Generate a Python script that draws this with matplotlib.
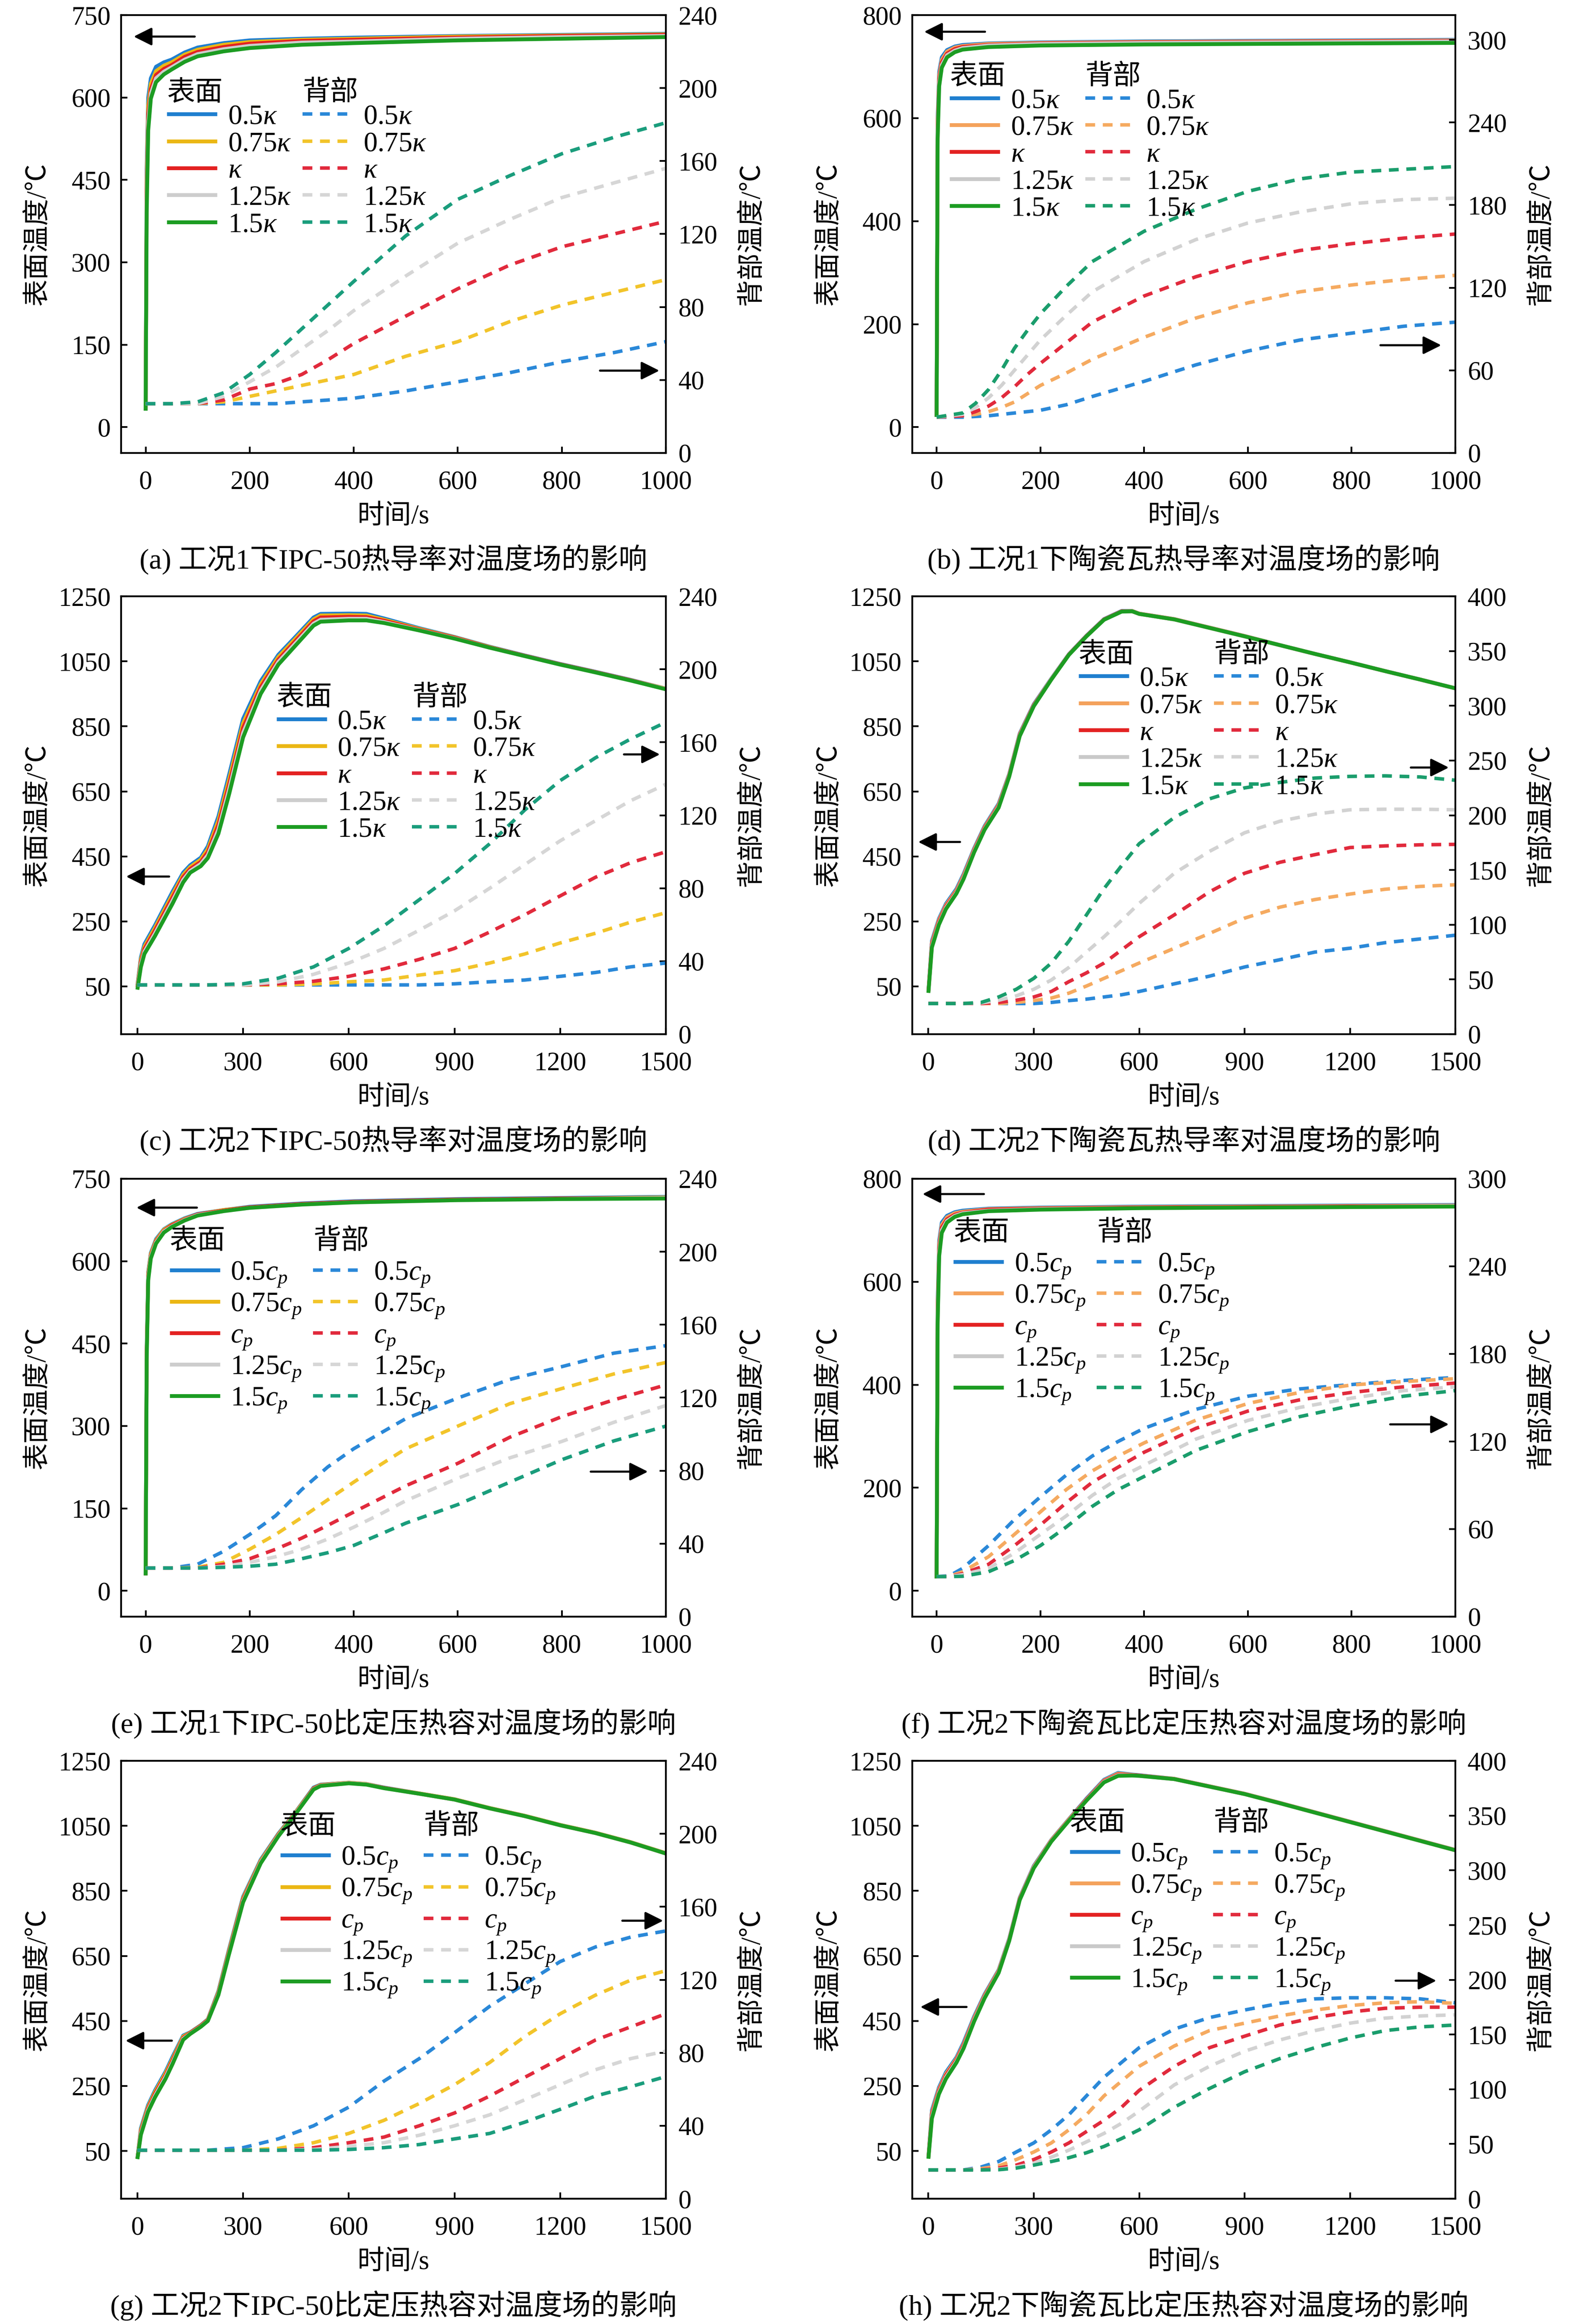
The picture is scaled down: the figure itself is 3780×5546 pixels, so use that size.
"""Surface / back temperature under different thermal conductivity and specific heat."""

import matplotlib
matplotlib.use('Agg')
import matplotlib.pyplot as plt
from matplotlib.legend_handler import HandlerBase
from matplotlib.lines import Line2D
from matplotlib.text import Text

plt.rcParams['font.family'] = ['Liberation Serif', 'Noto Sans CJK SC']
plt.rcParams['mathtext.fontset'] = 'custom'
plt.rcParams['mathtext.rm'] = 'Liberation Serif'
plt.rcParams['mathtext.it'] = 'Liberation Serif:italic'
plt.rcParams['axes.unicode_minus'] = False

K_LABELS = ['0.5$\\kappa$', '0.75$\\kappa$', '$\\kappa$', '1.25$\\kappa$', '1.5$\\kappa$']
CP_LABELS = ['0.5$c_p$', '0.75$c_p$', '$c_p$', '1.25$c_p$', '1.5$c_p$']

# (a) case 1, IPC-50, conductivity
ts_a = [0, 2, 5, 10, 20, 35, 50, 75, 100, 150, 200, 300, 400, 600, 800, 1000]
sa_05 = [30, 470, 600, 635, 656, 664, 669, 682, 691, 699, 704, 707, 709, 712, 714, 716]
sa_075 = [30, 450, 585, 625, 648, 658, 664, 678, 687, 696, 701, 705, 707, 711, 713, 715]
sa_1 = [30, 430, 570, 615, 641, 652, 659, 674, 683, 692, 698, 703, 705, 709, 712, 714]
sa_125 = [30, 410, 555, 607, 635, 647, 655, 669, 679, 688, 694, 700, 702, 707, 710, 712]
sa_15 = [30, 390, 540, 598, 628, 642, 651, 665, 675, 684, 690, 696, 699, 704, 707, 710]
tb_a = [0, 50, 100, 150, 200, 250, 300, 350, 400, 500, 600, 700, 800, 900, 1000]
ba_05 = [27, 27, 27, 27, 27, 27, 28, 29, 30, 34, 39, 44, 50, 55, 61]
ba_075 = [27, 27, 27, 28, 31, 34, 37, 40, 43, 53, 61, 72, 81, 88, 95]
ba_1 = [27, 27, 27, 29, 35, 38, 43, 51, 60, 75, 90, 103, 113, 120, 127]
ba_125 = [27, 27, 27, 31, 39, 47, 57, 67, 78, 97, 115, 128, 140, 148, 156]
ba_15 = [27, 27, 28, 33, 43, 55, 68, 81, 94, 119, 139, 152, 164, 173, 181]

# (b) case 1, ceramic tile, conductivity
ts_b = [0, 2, 5, 10, 20, 35, 50, 100, 200, 400, 600, 800, 1000]
sb_05 = [20, 600, 690, 718, 732, 739, 742, 745, 747, 749, 750, 751, 752]
sb_075 = [20, 590, 683, 713, 729, 737, 740, 744, 746, 748, 749, 750, 751]
sb_1 = [20, 580, 676, 708, 725, 734, 738, 742, 745, 747, 748, 749, 750]
sb_125 = [20, 570, 669, 703, 722, 731, 736, 741, 744, 746, 747, 748, 749]
sb_15 = [20, 560, 662, 698, 718, 728, 733, 738, 741, 743, 744, 745, 746]
tb_b = [0, 50, 75, 100, 125, 150, 175, 200, 250, 300, 400, 500, 600, 700, 800, 900, 1000]
bb_05 = [26, 26, 26.5, 27, 28, 29, 30, 31, 35, 41, 52, 64, 74, 82, 87, 92, 95]
bb_075 = [26, 27, 28, 30, 33, 37, 43, 49, 58, 68, 84, 98, 109, 117, 122, 126, 129]
bb_1 = [26, 27, 30, 34, 40, 48, 57, 65, 80, 95, 114, 128, 139, 147, 152, 156, 159]
bb_125 = [26, 28, 33, 40, 49, 60, 71, 82, 100, 117, 139, 155, 167, 175, 181, 184, 185]
bb_15 = [26, 29, 36, 46, 60, 76, 89, 101, 121, 139, 161, 177, 190, 199, 204, 206, 208]

# (c) case 2, IPC-50, conductivity
ts_c = [0, 10, 20, 50, 100, 130, 150, 180, 200, 230, 260, 300, 350, 400, 450, 500,
        520, 600, 650, 700, 800, 900, 1000, 1100, 1200, 1300, 1400, 1500]
sc_05 = [53, 140, 180, 238, 342, 400, 423, 446, 481, 573, 700, 873, 989, 1070, 1127, 1185,
         1196, 1197, 1196, 1182, 1152, 1125, 1095, 1068, 1042, 1018, 993, 966]
sc_075 = [50, 133, 172, 230, 333, 393, 417, 440, 472, 560, 685, 859, 979, 1063, 1121, 1179,
          1191, 1192, 1191, 1178, 1150, 1124, 1094, 1067, 1041, 1017, 992, 966]
sc_1 = [47, 125, 165, 222, 324, 386, 411, 433, 463, 547, 670, 845, 970, 1055, 1114, 1173,
        1185, 1187, 1186, 1175, 1148, 1123, 1093, 1067, 1041, 1017, 992, 965]
sc_125 = [44, 118, 157, 213, 314, 378, 405, 427, 454, 533, 655, 830, 960, 1048, 1107, 1166,
          1178, 1181, 1181, 1171, 1146, 1121, 1092, 1066, 1040, 1016, 991, 965]
sc_15 = [40, 110, 150, 205, 305, 370, 400, 420, 445, 520, 640, 816, 950, 1040, 1100, 1160,
         1172, 1176, 1176, 1168, 1145, 1120, 1092, 1066, 1040, 1016, 991, 964]
tb_c = [0, 100, 200, 300, 400, 500, 600, 700, 800, 900, 1000, 1100, 1200, 1300, 1400, 1500]
bc_05 = [27, 27, 27, 27, 27, 27, 27, 27, 27, 27.6, 28.7, 29.7, 31.7, 33.8, 36.9, 39]
bc_075 = [27, 27, 27, 27, 27, 27.5, 28.7, 29.7, 32.4, 34.8, 39, 44, 50, 55.3, 61.4, 66.6]
bc_1 = [27, 27, 27, 27, 27.6, 29, 31.7, 35.8, 41, 47, 56, 65.5, 75.8, 86, 94, 100]
bc_125 = [27, 27, 27, 27, 28.7, 32.8, 39, 47, 57, 67.6, 80, 93, 106, 117, 128, 137]
bc_15 = [27, 27, 27, 27.6, 30.7, 36.9, 47, 59.4, 73.7, 88, 104.4, 123, 139, 151.5, 161.8, 171]

# (d) case 2, ceramic tile, conductivity
ts_d = [0, 10, 30, 50, 80, 100, 130, 160, 200, 230, 260, 300, 350, 400, 450, 500,
        550, 580, 600, 700, 800, 900, 1000, 1100, 1200, 1300, 1400, 1500]
sd_05 = [35, 190, 258, 304, 350, 395, 474, 543, 612, 703, 828, 918, 997, 1072, 1129, 1180,
         1205, 1205, 1197, 1180, 1154, 1128, 1100, 1073, 1047, 1020, 994, 967]
sd_075 = [34, 185, 254, 300, 346, 391, 471, 540, 609, 701, 826, 916, 996, 1071, 1128, 1179,
          1204, 1205, 1197, 1180, 1154, 1128, 1100, 1073, 1047, 1020, 994, 967]
sd_1 = [33, 180, 249, 296, 342, 387, 468, 537, 606, 699, 824, 915, 995, 1071, 1128, 1179,
        1204, 1204, 1196, 1179, 1153, 1127, 1100, 1073, 1047, 1020, 994, 967]
sd_125 = [31, 175, 244, 292, 339, 384, 465, 534, 603, 697, 822, 913, 995, 1070, 1127, 1178,
          1203, 1204, 1196, 1179, 1153, 1127, 1100, 1073, 1047, 1020, 994, 967]
sd_15 = [30, 170, 240, 288, 336, 380, 462, 532, 600, 695, 820, 912, 994, 1070, 1127, 1178,
         1203, 1204, 1196, 1179, 1153, 1127, 1100, 1073, 1047, 1020, 994, 967]
tb_d = [0, 100, 150, 200, 250, 300, 350, 400, 450, 500, 550, 600, 700, 800, 900, 1000,
        1100, 1200, 1300, 1400, 1500]
bd_05 = [28, 28, 28, 28, 28, 28, 29, 30.7, 32, 34, 36, 39, 46, 53, 61.4, 68, 75, 78.5, 83.6, 87, 90.4]
bd_075 = [28, 28, 28, 28, 29, 30.7, 33, 37.5, 44, 51, 58, 65, 78.5, 92, 106, 116, 123, 128, 132.4, 135, 136.5]
bd_1 = [28, 28, 28, 29, 31, 34, 39, 48, 56, 65, 77, 89, 109, 130, 147, 157, 164, 170.5, 172, 173, 173.4]
bd_125 = [28, 28, 28.5, 31, 35, 41, 49.5, 61, 75, 89, 104, 119.5, 147, 167, 184, 194.5, 201, 205, 205.5, 205.5, 205]
bd_15 = [28, 28, 29, 34, 41, 51, 65, 85, 109, 133, 154, 174, 198, 215, 225, 230, 234, 235.5, 236, 235, 232]

# (e) case 1, IPC-50, specific heat
ts_e = [0, 2, 5, 10, 20, 35, 50, 75, 100, 150, 200, 300, 400, 600, 800, 1000]
se_05 = [28, 440, 580, 615, 640, 658, 667, 678, 686, 693, 699, 705, 709, 713, 715, 717]
se_075 = [28, 435, 577, 613, 638, 657, 666, 677, 685, 693, 698, 704, 708, 712, 714, 716]
se_1 = [28, 430, 573, 610, 636, 655, 665, 676, 685, 692, 698, 704, 708, 712, 714, 715]
se_125 = [28, 425, 569, 608, 634, 654, 663, 675, 684, 691, 697, 703, 707, 711, 713, 715]
se_15 = [28, 420, 565, 605, 632, 652, 662, 674, 683, 691, 697, 703, 707, 711, 713, 714]
tb_e = [0, 50, 100, 150, 200, 250, 300, 350, 400, 450, 500, 600, 700, 800, 900, 1000]
be_05 = [26.6, 26.6, 28.7, 35.8, 45, 55.3, 69.6, 82, 92, 100.3, 108.5, 119.8, 130, 137, 144.4, 148.5]
be_075 = [26.6, 26.6, 27, 29.7, 36.9, 45, 54.3, 64, 73.7, 83, 92, 104.4, 116.7, 125, 133, 139.3]
be_1 = [26.6, 26.6, 26.6, 28.7, 31.7, 36.9, 43, 50, 57.3, 64.5, 71.7, 84, 98.3, 109.6, 118.8, 127]
be_125 = [26.6, 26.6, 26.6, 27.5, 29.7, 32.8, 36.9, 42.5, 49, 56, 63.5, 75.8, 87, 96, 106.5, 115.7]
be_15 = [26.6, 26.6, 26.6, 27, 27.6, 28.7, 31.7, 35, 39, 45, 51.2, 61.4, 73.7, 86, 96.3, 104.4]

# (f) case 2, ceramic tile, specific heat
ts_f = [0, 2, 5, 10, 20, 35, 50, 100, 200, 400, 600, 800, 1000]
sf_05 = [24, 560, 680, 715, 728, 735, 738, 742, 744, 746, 747, 748, 749]
sf_075 = [24, 550, 673, 710, 725, 733, 736, 741, 743, 745, 746, 747, 748]
sf_1 = [24, 540, 665, 705, 721, 730, 734, 740, 742, 744, 745, 746, 747]
sf_125 = [24, 530, 658, 700, 718, 728, 733, 738, 741, 743, 744, 745, 747]
sf_15 = [24, 520, 650, 695, 715, 726, 731, 737, 740, 743, 744, 745, 746]
tb_f = [0, 25, 50, 100, 150, 200, 250, 300, 350, 400, 500, 600, 700, 800, 900, 1000]
bf_05 = [27.4, 28, 33, 48.6, 66.5, 82, 97, 110, 120, 129, 142, 151, 156, 159, 161.8, 163.8]
bf_075 = [27.4, 27.6, 30.7, 41, 56.3, 71.7, 87, 99.8, 110, 119, 134.6, 146, 153.6, 158.7, 161, 163]
bf_1 = [27.4, 27.4, 29.4, 35.8, 48.6, 62.7, 78, 92, 102.4, 112.6, 129, 140.8, 148.5, 153.6, 157.4, 160]
bf_125 = [27.4, 27.4, 28.7, 33, 43.5, 56.3, 69, 83, 94.7, 103.7, 121.6, 134.4, 143.3, 149.7, 154.8, 157.4]
bf_15 = [27.4, 27.4, 27.6, 30.7, 38.4, 48.6, 61.4, 75.5, 87, 96, 113.9, 126.7, 137, 144.6, 151, 154.8]

# (g) case 2, IPC-50, specific heat
ts_g = [0, 10, 30, 50, 80, 100, 130, 150, 180, 200, 230, 260, 300, 350, 400, 450, 500,
        520, 600, 650, 700, 800, 900, 1000, 1100, 1200, 1300, 1400, 1500]
sg_05 = [27, 120, 190, 236, 294, 340, 405, 415, 437, 455, 542, 670, 832, 946, 1026, 1094, 1168,
         1177, 1183, 1179, 1168, 1150, 1132, 1105, 1081, 1053, 1029, 1000, 966]
sg_075 = [27, 115, 185, 231, 289, 334, 402, 414, 436, 454, 539, 666, 828, 943, 1024, 1093, 1166,
          1176, 1183, 1179, 1167, 1150, 1132, 1105, 1081, 1053, 1029, 1000, 966]
sg_1 = [26, 110, 180, 226, 283, 329, 398, 413, 435, 453, 536, 662, 824, 940, 1022, 1091, 1165,
        1175, 1182, 1178, 1167, 1149, 1131, 1104, 1080, 1052, 1028, 999, 965]
sg_125 = [26, 105, 175, 220, 278, 323, 395, 411, 433, 451, 533, 658, 819, 938, 1020, 1090, 1163,
          1174, 1182, 1178, 1166, 1149, 1131, 1104, 1080, 1052, 1028, 999, 965]
sg_15 = [25, 100, 170, 215, 272, 318, 392, 410, 432, 450, 530, 655, 815, 935, 1018, 1088, 1162,
         1173, 1181, 1177, 1166, 1149, 1131, 1104, 1080, 1052, 1028, 999, 965]
tb_g = [0, 100, 200, 300, 400, 500, 600, 700, 800, 900, 1000, 1100, 1200, 1300, 1400, 1500]
bg_05 = [26.6, 26.6, 26.6, 28, 32.8, 40, 50.2, 64.5, 76.8, 91, 105.5, 117.8, 130, 138, 143.4, 146.8]
bg_075 = [26.6, 26.6, 26.6, 26.6, 27.6, 30.7, 35.8, 43, 52.2, 62.5, 74.7, 89, 101.4, 111.6, 119.8, 125]
bg_1 = [26.6, 26.6, 26.6, 26.6, 26.6, 28, 30.7, 33.8, 40, 47, 56.3, 66.6, 76.8, 87, 94.2, 101.4]
bg_125 = [26.6, 26.6, 26.6, 26.6, 26.6, 27, 28.7, 30.7, 34.8, 40, 46, 54.3, 62.5, 70.7, 76.8, 80.9]
bg_15 = [26.6, 26.6, 26.6, 26.6, 26.6, 26.6, 27, 28, 29.7, 32.8, 35.8, 42, 49, 56.3, 61.4, 67]

# (h) case 2, ceramic tile, specific heat
ts_h = [0, 10, 30, 50, 80, 100, 130, 160, 200, 230, 260, 300, 350, 400, 450, 500,
        540, 580, 600, 700, 800, 900, 1000, 1100, 1200, 1300, 1400, 1500]
sh_05 = [30, 175, 245, 292, 338, 383, 463, 532, 607, 703, 829, 927, 1007, 1071, 1134, 1192,
         1213, 1208, 1206, 1195, 1172, 1149, 1121, 1092, 1063, 1034, 1005, 976]
sh_075 = [29, 169, 240, 287, 334, 378, 459, 529, 605, 701, 827, 925, 1006, 1070, 1132, 1190,
          1211, 1207, 1205, 1195, 1172, 1149, 1121, 1092, 1063, 1034, 1005, 976]
sh_1 = [28, 163, 235, 282, 330, 374, 455, 526, 602, 699, 825, 923, 1004, 1068, 1131, 1188,
        1208, 1206, 1205, 1194, 1171, 1148, 1120, 1091, 1062, 1033, 1004, 975]
sh_125 = [27, 156, 230, 277, 326, 369, 452, 523, 600, 698, 823, 922, 1003, 1067, 1129, 1186,
          1206, 1205, 1204, 1194, 1171, 1148, 1120, 1091, 1062, 1033, 1004, 975]
sh_15 = [26, 150, 225, 272, 322, 365, 448, 520, 598, 696, 822, 920, 1002, 1066, 1128, 1184,
         1204, 1205, 1204, 1194, 1171, 1148, 1120, 1091, 1062, 1033, 1004, 975]
tb_h = [0, 100, 150, 200, 250, 300, 350, 400, 450, 500, 550, 600, 700, 800, 900, 1000,
        1100, 1200, 1300, 1400, 1500]
bh_05 = [26.3, 26.3, 29, 34, 42.7, 51, 63, 76.8, 94, 111, 124.6, 138, 155, 165.5, 172.4, 178.5, 182.6, 183.6, 183.6, 182.6, 179]
bh_075 = [26.3, 26.3, 27.5, 30, 35.8, 42.7, 51, 63, 76.8, 94, 107.5, 121, 139.6, 153.6, 160.4, 167, 172.4, 176.5, 179, 180, 178.5]
bh_1 = [26.3, 26.3, 26.5, 28, 30.7, 35.8, 42.7, 51, 61.4, 71.7, 83.6, 99, 121, 138, 148.5, 158.7, 165.5, 170.6, 174, 175, 175]
bh_125 = [26.3, 26.3, 26.3, 27, 29, 32.4, 38, 44.4, 52, 59.7, 69, 80, 104, 121, 134.8, 145, 153.6, 160.4, 165, 167, 168]
bh_15 = [26.3, 26.3, 26.3, 26.5, 28, 30.7, 34, 37.5, 42, 47.8, 55, 63, 83.6, 100.7, 116, 128, 138, 146.8, 153.6, 157, 158.7]

CAPTIONS = [
    '(a) 工况1下IPC-50热导率对温度场的影响',
    '(b) 工况1下陶瓷瓦热导率对温度场的影响',
    '(c) 工况2下IPC-50热导率对温度场的影响',
    '(d) 工况2下陶瓷瓦热导率对温度场的影响',
    '(e) 工况1下IPC-50比定压热容对温度场的影响',
    '(f) 工况2下陶瓷瓦比定压热容对温度场的影响',
    '(g) 工况2下IPC-50比定压热容对温度场的影响',
    '(h) 工况2下陶瓷瓦比定压热容对温度场的影响',
]

SOLID_IPC = ['#1f7fcf', '#ebb714', '#e32222', '#cdcdcd', '#1c9c22']
SOLID_CER = ['#1f7fcf', '#f4a25c', '#e32222', '#c9c9c9', '#1c9c22']
DASH_IPC = ['#2a88d8', '#f2c42a', '#e12a3c', '#d6d6d6', '#1a9d7c']
DASH_CER = ['#2a88d8', '#f5aa60', '#e12a3c', '#d2d2d2', '#1a9d6c']


class HeaderHandler(HandlerBase):
    """Draws the column title text where the line sample would be."""

    def __init__(self, text, dy=0.0):
        super().__init__()
        self.text = text
        self.dy = dy

    def create_artists(self, legend, orig_handle, xdescent, ydescent,
                       width, height, fontsize, trans):
        t = Text(-xdescent, -ydescent + height / 2 + self.dy, self.text, fontsize=fontsize,
                 ha='left', va='center', transform=trans)
        return [t]


# per panel: time/curve data, limits, ticks, legend spot, arrow spots (axes fraction)
PANELS = [
    dict(ts=ts_a, surf=[sa_05, sa_075, sa_1, sa_125, sa_15], tb=tb_a, back=[ba_05, ba_075, ba_1, ba_125, ba_15],
         xmax=1000, xstep=200, yl=(-47, 750), ylt=range(0, 751, 150), yr=(0, 240), yrt=range(0, 241, 40),
         labels=K_LABELS, cer=False, leg=(0.084, 0.858), la=(0.023, 0.135, 0.951), ra=(0.879, 0.988, 0.188)),
    dict(ts=ts_b, surf=[sb_05, sb_075, sb_1, sb_125, sb_15], tb=tb_b, back=[bb_05, bb_075, bb_1, bb_125, bb_15],
         xmax=1000, xstep=200, yl=(-50, 800), ylt=range(0, 801, 200), yr=(0, 318), yrt=range(0, 301, 60),
         labels=K_LABELS, cer=True, leg=(0.069, 0.895), la=(0.022, 0.134, 0.962), ra=(0.862, 0.974, 0.246)),
    dict(ts=ts_c, surf=[sc_05, sc_075, sc_1, sc_125, sc_15], tb=tb_c, back=[bc_05, bc_075, bc_1, bc_125, bc_15],
         xmax=1500, xstep=300, yl=(-97, 1250), ylt=range(50, 1251, 200), yr=(0, 240), yrt=range(0, 241, 40),
         labels=K_LABELS, cer=False, leg=(0.285, 0.804), la=(0.009, 0.088, 0.360), ra=(0.923, 0.989, 0.639)),
    dict(ts=ts_d, surf=[sd_05, sd_075, sd_1, sd_125, sd_15], tb=tb_d, back=[bd_05, bd_075, bd_1, bd_125, bd_15],
         xmax=1500, xstep=300, yl=(-97, 1250), ylt=range(50, 1251, 200), yr=(0, 400), yrt=range(0, 401, 50),
         labels=K_LABELS, cer=True, leg=(0.306, 0.902), la=(0.011, 0.088, 0.439), ra=(0.918, 0.988, 0.609)),
    dict(ts=ts_e, surf=[se_05, se_075, se_1, se_125, se_15], tb=tb_e, back=[be_05, be_075, be_1, be_125, be_15],
         xmax=1000, xstep=200, yl=(-47, 750), ylt=range(0, 751, 150), yr=(0, 240), yrt=range(0, 241, 40),
         labels=CP_LABELS, cer=False, leg=(0.089, 0.879), la=(0.028, 0.139, 0.934), ra=(0.862, 0.967, 0.331)),
    dict(ts=ts_f, surf=[sf_05, sf_075, sf_1, sf_125, sf_15], tb=tb_f, back=[bf_05, bf_075, bf_1, bf_125, bf_15],
         xmax=1000, xstep=200, yl=(-50, 800), ylt=range(0, 801, 200), yr=(0, 300), yrt=range(0, 301, 60),
         labels=CP_LABELS, cer=True, leg=(0.076, 0.898), la=(0.019, 0.132, 0.965), ra=(0.880, 0.988, 0.439)),
    dict(ts=ts_g, surf=[sg_05, sg_075, sg_1, sg_125, sg_15], tb=tb_g, back=[bg_05, bg_075, bg_1, bg_125, bg_15],
         xmax=1500, xstep=300, yl=(-97, 1250), ylt=range(50, 1251, 200), yr=(0, 240), yrt=range(0, 241, 40),
         labels=CP_LABELS, cer=False, leg=(0.292, 0.872), la=(0.008, 0.093, 0.361), ra=(0.920, 0.995, 0.635)),
    dict(ts=ts_h, surf=[sh_05, sh_075, sh_1, sh_125, sh_15], tb=tb_h, back=[bh_05, bh_075, bh_1, bh_125, bh_15],
         xmax=1500, xstep=300, yl=(-97, 1250), ylt=range(50, 1251, 200), yr=(0, 400), yrt=range(0, 401, 50),
         labels=CP_LABELS, cer=True, leg=(0.290, 0.880), la=(0.015, 0.100, 0.438), ra=(0.890, 0.965, 0.498)),
]

COL_LEFT = [0.0765, 0.5759]
COL_W = [0.3439, 0.3429]
ROW_BOTTOM = [0.8051, 0.5550, 0.3044, 0.0539]
ROW_H = 0.1884

TICK_FS = 15
LABEL_FS = 15.5
CAPTION_FS = 16.4
LEG_FS = 16


def draw_panel(fig, idx, p):
    row, col = divmod(idx, 2)
    ax = fig.add_axes([COL_LEFT[col], ROW_BOTTOM[row], COL_W[col], ROW_H])
    ax2 = ax.twinx()
    solid = SOLID_CER if p['cer'] else SOLID_IPC
    dash = DASH_CER if p['cer'] else DASH_IPC

    s_lines = []
    for vals, c, lab in zip(p['surf'], solid, p['labels']):
        ln, = ax.plot(p['ts'], vals, color=c, lw=2.2, label=lab, solid_capstyle='butt')
        s_lines.append(ln)
    d_lines = []
    for vals, c, lab in zip(p['back'], dash, p['labels']):
        ln, = ax2.plot(p['tb'], vals, color=c, lw=2.0, dashes=(2.8, 2.2), label=lab)
        d_lines.append(ln)

    ax.set_xlim(-47 if p['xmax'] == 1000 else -46, p['xmax'])
    ax.set_xticks(range(0, p['xmax'] + 1, p['xstep']))
    ax.set_ylim(*p['yl'])
    ax.set_yticks(list(p['ylt']))
    ax2.set_ylim(*p['yr'])
    ax2.set_yticks(list(p['yrt']))

    for a in (ax, ax2):
        for sp in a.spines.values():
            sp.set_linewidth(1.0)
    ax.tick_params(axis='both', direction='in', length=3.6, width=1.0, labelsize=TICK_FS,
                   top=False, right=False)
    ax.tick_params(axis='y', pad=6)
    ax.tick_params(axis='x', pad=10)
    ax2.tick_params(axis='y', direction='in', length=3.6, width=1.0, labelsize=TICK_FS, pad=7)

    ax.text(-0.153, 0.5, '表面温度/℃', transform=ax.transAxes, rotation=90,
            ha='center', va='center', fontsize=LABEL_FS)
    ax.text(1.158, 0.5, '背部温度/℃', transform=ax.transAxes, rotation=90,
            ha='center', va='center', fontsize=LABEL_FS)
    ax.text(0.5, -0.1455, '时间/s', transform=ax.transAxes, ha='center', va='center',
            fontsize=LABEL_FS)
    ax.text(0.5, -0.244, CAPTIONS[idx], transform=ax.transAxes, ha='center', va='center',
            fontsize=CAPTION_FS)

    kappa = p['labels'] is K_LABELS
    dy = -3.5 if kappa else 0.0
    h1 = Line2D([], [])
    h2 = Line2D([], [])
    handles = [h1] + s_lines + [h2] + d_lines
    labels = [' '] + p['labels'] + [' '] + p['labels']
    ax2.legend(handles, labels, ncol=2, loc='upper left', bbox_to_anchor=p['leg'],
               frameon=False, fontsize=LEG_FS, borderpad=0, borderaxespad=0,
               handlelength=1.8, handletextpad=0.38, columnspacing=0.4,
               labelspacing=0.05 if kappa else 0.1,
               handler_map={h1: HeaderHandler('表面', dy), h2: HeaderHandler('背部', dy)})

    arrow = dict(arrowstyle='-|>', color='k', lw=1.2, mutation_scale=22, shrinkA=0, shrinkB=0)
    x_head, x_tail, y = p['la']
    ax2.annotate('', xy=(x_head, y), xytext=(x_tail, y), xycoords='axes fraction',
                 textcoords='axes fraction', arrowprops=arrow)
    x_tail, x_head, y = p['ra']
    ax2.annotate('', xy=(x_head, y), xytext=(x_tail, y), xycoords='axes fraction',
                 textcoords='axes fraction', arrowprops=arrow)


if __name__ == '__main__':
    fig = plt.figure(figsize=(12.6, 18.4867), dpi=300)
    for i, panel in enumerate(PANELS):
        draw_panel(fig, i, panel)
    fig.savefig('out.png', dpi=300, facecolor='white')
